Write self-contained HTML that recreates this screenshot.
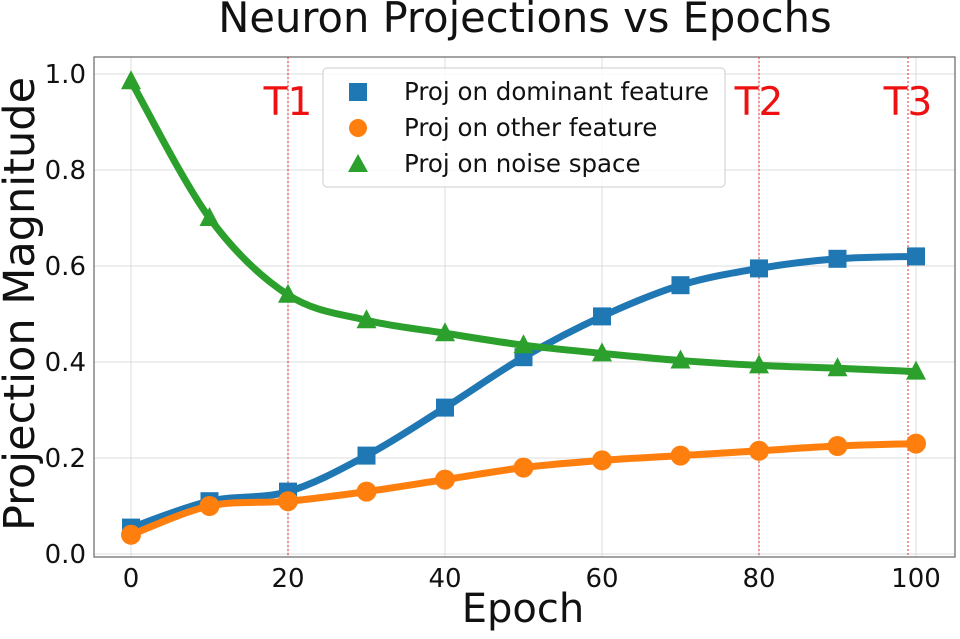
<!DOCTYPE html>
<html><head><meta charset="utf-8"><style>
body{margin:0;background:#fff}
svg text{font-family:"DejaVu Sans","Liberation Sans",sans-serif}
</style></head><body>
<svg id="s" width="960" height="634" xmlns="http://www.w3.org/2000/svg">
<text x="525" y="32" font-size="41.6" text-anchor="middle" fill="#111">Neuron Projections vs Epochs</text>
<g id="grid" stroke="#dcdcdc" stroke-width="1"></g>
<rect x="94" y="57" width="861" height="500" fill="none" stroke="#666" stroke-width="1.2"/>
<g id="ticks" font-size="26" fill="#111"></g>
<g stroke="#e53030" stroke-width="1" stroke-dasharray="2,2">
<line x1="288" y1="57" x2="288" y2="557"/><line x1="759" y1="57" x2="759" y2="557"/><line x1="908" y1="57" x2="908" y2="557"/>
</g>
<g font-size="39" fill="#ee1111" text-anchor="middle">
<text x="288" y="115">T1</text><text x="759" y="115">T2</text><text x="908" y="115">T3</text>
</g>
<g id="series"></g>
<rect x="323" y="68" width="402" height="119" rx="4" fill="#fff" fill-opacity="0.85" stroke="#ccc"/>
<rect x="349" y="83" width="18" height="18" fill="#1f77b4"/>
<circle cx="358" cy="128" r="9" fill="#ff7f0e"/>
<polygon points="358,154 368,172 348,172" fill="#2ca02c"/>
<g font-size="24.5" fill="#111">
<text x="404" y="100">Proj on dominant feature</text>
<text x="404" y="136">Proj on other feature</text>
<text x="404" y="172">Proj on noise space</text>
</g>
<text x="523" y="622" font-size="40" text-anchor="middle" fill="#111">Epoch</text>
<text transform="translate(34,304) rotate(-90)" font-size="43" text-anchor="middle" fill="#111">Projection Magnitude</text>
</svg>
<script>
const NS="http://www.w3.org/2000/svg";
const X=v=>131+v*7.85, Y=v=>554-v*480;
const g=document.getElementById('grid'),t=document.getElementById('ticks'),se=document.getElementById('series');
function el(p,n,a,txt){const e=document.createElementNS(NS,n);for(const k in a)e.setAttribute(k,a[k]);if(txt!=null)e.textContent=txt;p.appendChild(e);return e;}
for(let i=0;i<=100;i+=20){el(g,'line',{x1:X(i),x2:X(i),y1:57,y2:557});el(t,'text',{x:X(i),y:587,'text-anchor':'middle'},String(i));}
for(let i=0;i<=5;i++){const v=i*0.2;el(g,'line',{x1:94,x2:955,y1:Y(v),y2:Y(v)});el(t,'text',{x:86,y:Y(v)+9,'text-anchor':'end'},v.toFixed(1));}
const xs=[0,10,20,30,40,50,60,70,80,90,100];
const D=[
{c:'#1f77b4',m:'s',y:[.055,.11,.13,.205,.305,.41,.495,.56,.595,.615,.62]},
{c:'#ff7f0e',m:'o',y:[.04,.10,.11,.13,.155,.18,.195,.205,.215,.225,.23]},
{c:'#2ca02c',m:'t',y:[.985,.70,.54,.487,.46,.435,.418,.403,.393,.387,.38]}];
D.forEach(s=>{
 const P=xs.map((x,i)=>[X(x),Y(s.y[i])]);
 let d=`M${P[0][0]},${P[0][1]}`;
 for(let i=0;i<P.length-1;i++){const p0=P[Math.max(0,i-1)],p1=P[i],p2=P[i+1],p3=P[Math.min(P.length-1,i+2)];
  d+=` C${p1[0]+(p2[0]-p0[0])/6},${p1[1]+(p2[1]-p0[1])/6} ${p2[0]-(p3[0]-p1[0])/6},${p2[1]-(p3[1]-p1[1])/6} ${p2[0]},${p2[1]}`;}
 el(se,'path',{d,fill:'none',stroke:s.c,'stroke-width':7,'stroke-linecap':'round'});
 P.forEach(([x,y])=>{
  if(s.m=='s')el(se,'rect',{x:x-9,y:y-9,width:18,height:18,fill:s.c});
  else if(s.m=='o')el(se,'circle',{cx:x,cy:y,r:10,fill:s.c});
  else el(se,'polygon',{points:`${x},${y-11} ${x+10},${y+8} ${x-10},${y+8}`,fill:s.c});
 });
});
</script>
</body></html>
